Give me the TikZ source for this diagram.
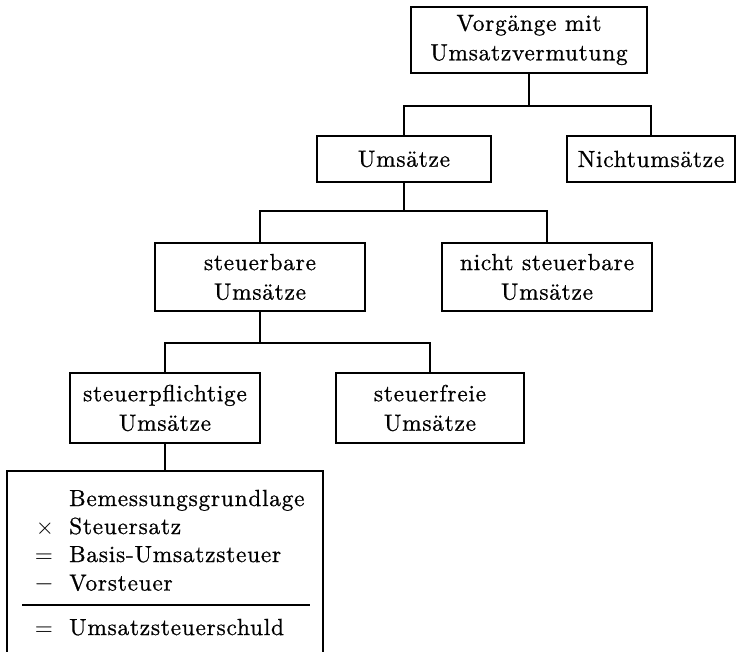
\documentclass[tikz,border=0pt]{standalone}
\usepackage{fontspec}
\setmainfont{lmroman10-regular.otf}[LetterSpace=3.3,FakeBold=0.8]
\newfontfamily\opfont{lmroman10-regular.otf}
\begin{document}
\begin{tikzpicture}[x=1pt,y=-1pt,
  every node/.style={font=\fontsize{23.3}{29.5}\selectfont},
  box/.style={draw, line width=2pt, align=center, inner sep=0pt},
  link/.style={line width=2pt},
  op/.style={anchor=base, inner sep=0pt, font=\opfont\fontsize{23.3}{29.5}\selectfont},
  txt/.style={anchor=base west, inner sep=0pt}]
\useasboundingbox (0,0) rectangle (736,651);
\clip (0,0) rectangle (736,651);
% boxes
\node[box, minimum width=236pt, minimum height=66pt] (top) at (529,40) {Vorgänge mit\\Umsatzvermutung};
\node[box, minimum width=174pt, minimum height=46pt] (ums) at (404,159) {Umsätze};
\node[box, minimum width=168pt, minimum height=46pt] (nicht) at (651,159) {Nichtumsätze};
\node[box, minimum width=210pt, minimum height=68pt] (stb) at (260,277) {steuerbare\\Umsätze};
\node[box, minimum width=210pt, minimum height=68pt] (nstb) at (547,277) {nicht steuerbare\\Umsätze};
\node[box, minimum width=190pt, minimum height=70pt] (stpf) at (165,408) {steuerpflichtige\\Umsätze};
\node[box, minimum width=188pt, minimum height=70pt] (stfr) at (430,408) {steuerfreie\\Umsätze};
\node[box, minimum width=316pt, minimum height=220pt, anchor=north] (calc) at (165,470) {};
% junctions
\coordinate (j1) at (529,106);
\coordinate (j2) at (404,211);
\coordinate (j3) at (260,343);
% connectors
\draw[link] (top.south) -- (j1);
\draw[link] (ums.north) |- (j1) -| (nicht.north);
\draw[link] (ums.south) -- (j2);
\draw[link] (stb.north) |- (j2) -| (nstb.north);
\draw[link] (stb.south) -- (j3);
\draw[link] (stpf.north) |- (j3) -| (stfr.north);
\draw[link] (stpf.south) -- (calc.north);
% calculation scheme
\node[txt] (l1) at (69,506) {Bemessungsgrundlage};
\node[op] (o2) at (45,534) {×};
\node[txt] (l2) at (69,534) {Steuersatz};
\node[op] (o3) at (44,562) {=};
\node[txt] (l3) at (69,562) {Basis-Umsatzsteuer};
\node[op] (o4) at (44,590.5) {$-$};
\node[txt] (l4) at (69,590.5) {Vorsteuer};
\coordinate (r1) at (22,605);
\coordinate (r2) at (310,605);
\draw[line width=1.6pt] (r1) -- (r2);
\node[op] (o5) at (44,635) {=};
\node[txt] (l5) at (69,635) {Umsatzsteuerschuld};
\end{tikzpicture}
\end{document}
